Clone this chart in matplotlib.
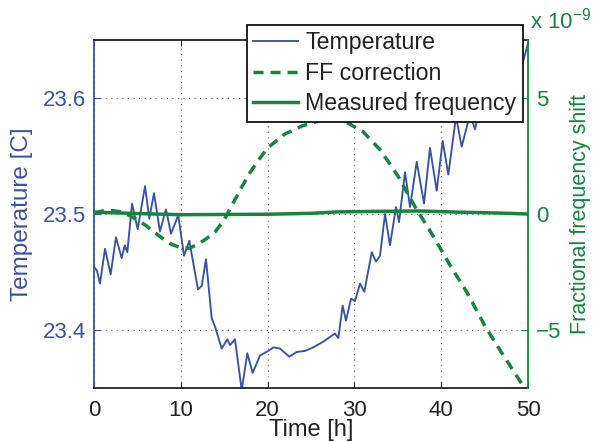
import matplotlib
matplotlib.use("Agg")
import matplotlib.pyplot as plt

plt.rcParams['font.family'] = ['Liberation Sans', 'DejaVu Sans']
plt.rcParams['mathtext.default'] = 'regular'

BLUE = '#3853a4'
GREEN = '#14863f'

# Temperature [C] vs time [h]
temp_t = [0, 0.35, 0.69, 1.27, 1.92, 2.53, 3.19, 3.54, 3.84, 4.38, 5.03, 5.88, 6.37, 6.91,
          7.60, 8.29, 8.87, 9.71, 10.37, 10.98, 11.98, 12.41, 12.90, 13.56, 13.94, 14.71,
          15.36, 15.67, 16.24, 17.02, 17.66, 18.28, 19.12, 20.08, 20.66, 21.43, 22.50,
          23.35, 24.31, 25.26, 26.42, 27.19, 27.76, 28.15, 28.65, 29.03, 29.61, 30.07,
          30.65, 31.14, 32.0, 32.49, 32.95, 33.53, 34.10, 34.79, 35.14, 35.83, 36.41,
          37.18, 38.02, 38.71, 39.48, 40.17, 40.82, 41.71, 42.36, 43.32, 43.89, 44.70,
          45.39, 46.31, 47.0, 47.93, 48.5, 49.42, 50.0]
temp_v = [23.4545, 23.451, 23.440, 23.470, 23.448, 23.480, 23.462, 23.473, 23.467, 23.509,
          23.487, 23.524, 23.496, 23.518, 23.485, 23.504, 23.483, 23.499, 23.464, 23.477,
          23.435, 23.438, 23.461, 23.410, 23.403, 23.384, 23.392, 23.387, 23.392, 23.348,
          23.380, 23.363, 23.378, 23.382, 23.385, 23.384, 23.377, 23.381, 23.382, 23.385,
          23.390, 23.394, 23.397, 23.393, 23.421, 23.408, 23.427, 23.425, 23.440, 23.433,
          23.467, 23.459, 23.464, 23.500, 23.473, 23.506, 23.493, 23.536, 23.506, 23.545,
          23.509, 23.557, 23.520, 23.563, 23.534, 23.584, 23.558, 23.586, 23.573, 23.599,
          23.588, 23.612, 23.600, 23.623, 23.614, 23.631, 23.647]

# FF correction (fractional, units of 1e-9)
ff_t = [0, 1, 2, 3, 4, 5, 6, 7, 8, 9, 10, 11, 12, 13, 14, 15, 16, 17, 18, 19, 20, 22, 24,
        26, 27.5, 29, 31, 33, 35, 37, 39, 41, 43, 45, 47, 49, 50]
ff_v = [0.05, 0.13, 0.15, 0.1, -0.05, -0.25, -0.5, -0.8, -1.08, -1.32, -1.45, -1.47, -1.3,
        -1.05, -0.75, -0.25, 0.45, 1.15, 1.8, 2.35, 2.85, 3.45, 3.8, 4.02, 4.08, 3.97, 3.55,
        2.75, 1.65, 0.3, -0.9, -2.2, -3.4, -4.8, -6.0, -7.15, -7.75]

# Measured frequency (units of 1e-9)
mf_t = [0, 5, 10, 15, 20, 25, 28, 32, 37.5, 42, 46.8, 50]
mf_v = [0.08, 0.02, -0.03, -0.02, -0.01, 0.03, 0.09, 0.11, 0.13, 0.08, 0.04, 0.0]

x_ticks = [0, 10, 20, 30, 40, 50]
t_ticks = [23.4, 23.5, 23.6]
f_ticks = [-5, 0, 5]

fig = plt.figure(figsize=(5.99, 4.42), dpi=100)
ax1 = fig.add_axes([94/599, 1-388/442, (528-94)/599, (388-40)/442])
ax2 = ax1.twinx()

l1, = ax1.plot(temp_t, temp_v, color=BLUE, lw=1.35)
l2, = ax2.plot(ff_t, ff_v, color=GREEN, lw=2.5, linestyle=(0, (2.9, 2.0)))
l3, = ax2.plot(mf_t, mf_v, color=GREEN, lw=2.5)

ax1.set_xlim(0, 50)
ax1.set_ylim(23.35, 23.65)
ax2.set_ylim(-7.5, 7.5)
ax1.set_xticks(x_ticks)
ax1.set_yticks(t_ticks)
ax1.set_yticklabels(['%.1f' % v for v in t_ticks])
ax2.set_yticks(f_ticks)
ax2.set_yticklabels(['\u22125', '0', '5'])

ax1.grid(True, color='#666666', linestyle=(0, (1, 4)), lw=0.8)

ax1.tick_params(axis='x', direction='in', length=4, labelsize=16, colors='#222222',
                top=True, pad=9)
ax1.tick_params(axis='y', direction='in', length=5, labelsize=16, colors=BLUE, pad=6)
ax2.tick_params(axis='y', direction='in', length=5, labelsize=16, colors=GREEN, pad=6)

for s in ['top', 'bottom']:
    ax1.spines[s].set_color('#222222')
    ax1.spines[s].set_linewidth(1.3)
ax1.spines['left'].set_color(BLUE)
ax1.spines['left'].set_linewidth(1.3)
ax1.spines['right'].set_visible(False)
for s in ['left', 'top', 'bottom']:
    ax2.spines[s].set_visible(False)
ax2.spines['right'].set_color(GREEN)
ax2.spines['right'].set_linewidth(1.3)

ax1.set_xlabel('Time [h]', fontsize=17, color='#222222', labelpad=-2)
ax1.set_ylabel('Temperature [C]', fontsize=17.5, color=BLUE, labelpad=7)
ax2.set_ylabel('Fractional frequency shift', fontsize=15.5, color=GREEN, labelpad=6)

fig.text(530/599, 1-28/442, 'x 10$^{-9}$', fontsize=16, color=GREEN, ha='left', va='baseline')

leg = ax2.legend([l1, l2, l3], ['Temperature', 'FF correction', 'Measured frequency'],
                 loc='upper right', bbox_to_anchor=(523/599, 1-25/442),
                 bbox_transform=fig.transFigure, borderaxespad=0, fontsize=16.7,
                 fancybox=False, framealpha=1, edgecolor='#111111', handlelength=1.95,
                 labelspacing=0.32, borderpad=0.28, handletextpad=0.3)
leg.get_frame().set_linewidth(1.3)
for t in leg.get_texts():
    t.set_color('#222222')

fig.savefig('out.png', dpi=100)
